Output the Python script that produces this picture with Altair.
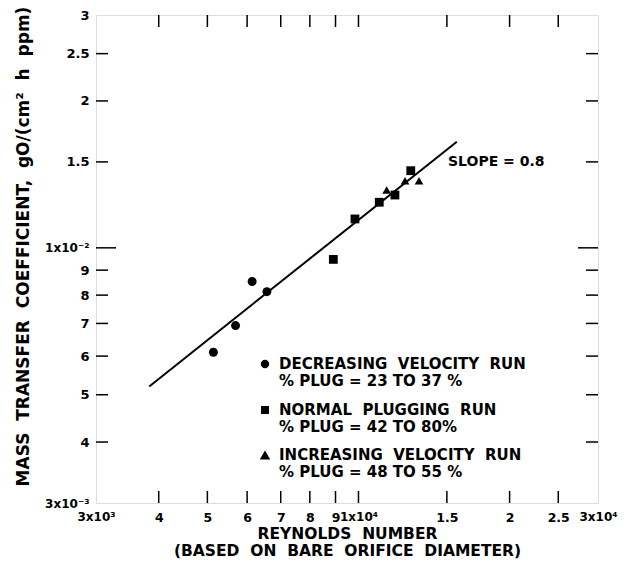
import altair as alt
import pandas as pd

# ---- data ----
circle_x = [5140, 5690, 6140, 6570]
circle_y = [0.00611, 0.00693, 0.00853, 0.00813]
square_x = [8910, 9840, 11000, 11820, 12710]
square_y = [0.00947, 0.01146, 0.0124, 0.01283, 0.01439]
tri_x = [11380, 12380, 13200]
tri_y = [0.01314, 0.01373, 0.01373]
fit_x = [3830, 15700]
fit_y = [0.0052, 0.0165]

x_ticks = [3000, 4000, 5000, 6000, 7000, 8000, 9000, 10000, 15000, 20000, 25000, 30000]
x_labels = ["3x10³", "4", "5", "6", "7", "8", "9", "1x10⁴", "1.5", "2", "2.5", "3x10⁴"]
y_ticks = [0.003, 0.004, 0.005, 0.006, 0.007, 0.008, 0.009, 0.01, 0.015, 0.02, 0.025, 0.03]
y_labels = ["3x10⁻³", "4", "5", "6", "7", "8", "9", "1x10⁻²", "1.5", "2", "2.5", "3"]

legend_lines = [
    ["DECREASING VELOCITY RUN", "% PLUG = 23 TO 37 %"],
    ["NORMAL PLUGGING RUN", "% PLUG = 42 TO 80%"],
    ["INCREASING VELOCITY RUN", "% PLUG = 48 TO 55 %"],
]
slope_text = "SLOPE = 0.8"
x_title = ["REYNOLDS NUMBER", "(BASED ON BARE ORIFICE DIAMETER)"]
y_title = "MASS TRANSFER COEFFICIENT, gO/(cm² h ppm)"

W, H = 502, 488
FONT = "DejaVu Sans"
NB = "\u00a0"


def wide(s, n=2):
    return s.replace(" ", NB * n)


def label_expr(vals, labs):
    expr = "''"
    for v, l in reversed(list(zip(vals, labs))):
        expr = f"abs(datum.value - {v}) < {v * 1e-6} ? '{l}' : ({expr})"
    return expr


def size_cond(powers, small, normal):
    test = " || ".join(f"abs(datum.value - {v}) < {v * 1e-6}" for v in powers)
    return {"condition": {"test": test, "value": small}, "value": normal}


xs = alt.Scale(type="log", domain=[3000, 30000], nice=False)
ys = alt.Scale(type="log", domain=[0.003, 0.03], nice=False)

pts = pd.DataFrame({
    "x": circle_x + square_x + tri_x,
    "y": circle_y + square_y + tri_y,
    "kind": ["circle"] * len(circle_x) + ["square"] * len(square_x) + ["triangle-up"] * len(tri_x),
})

x_axis = alt.Axis(values=x_ticks, labelExpr=label_expr(x_ticks, x_labels), ticks=False,
                  domain=False, grid=False, labelFont=FONT, labelFontWeight="bold",
                  labelFontSize=size_cond([3000, 10000, 30000], 12, 12.5),
                  labelColor="black", labelPadding=8, labelFlush=False,
                  labelOverlap=False,
                  title=[wide(t, 2) for t in x_title],
                  titleFont=FONT, titleFontWeight="bold", titleFontSize=15.5, titleColor="black",
                  titleY=23, titleBaseline="top", titleLineHeight=17)
y_axis = alt.Axis(values=y_ticks, labelExpr=label_expr(y_ticks, y_labels), ticks=False,
                  domain=False, grid=False, labelFont=FONT, labelFontWeight="bold",
                  labelFontSize=size_cond([0.003, 0.01], 12, 13),
                  labelColor="black", labelPadding=7, labelFlush=False,
                  labelOverlap=False,
                  title=wide(y_title, 2),
                  titleFont=FONT, titleFontWeight="bold", titleFontSize=17, titleColor="black",
                  titleX=-73, titleY=231, titleBaseline="middle", titleAngle=-90)

points = alt.Chart(pts).mark_point(filled=True, color="black", opacity=1).encode(
    x=alt.X("x:Q", scale=xs, axis=x_axis),
    y=alt.Y("y:Q", scale=ys, axis=y_axis),
    shape=alt.Shape("kind:N", scale=alt.Scale(domain=["circle", "square", "triangle-up"],
                                               range=["circle", "square", "triangle-up"]),
                    legend=None),
    size=alt.Size("kind:N", scale=alt.Scale(domain=["circle", "square", "triangle-up"],
                                             range=[80, 75, 130]), legend=None),
)

fit = alt.Chart(pd.DataFrame({"x": fit_x, "y": fit_y})).mark_line(color="black", strokeWidth=2).encode(
    x=alt.X("x:Q", scale=xs), y=alt.Y("y:Q", scale=ys))

xt = pd.DataFrame({"v": x_ticks[1:-1]})
yt = pd.DataFrame({"v": [v for v in y_ticks[1:-1] if v != 0.01]})
y_long = pd.DataFrame({"v": [0.01]})
TL = 12
tick_style = dict(color="black", strokeWidth=1.5)
bot = alt.Chart(xt).mark_rule(**tick_style).encode(x=alt.X("v:Q", scale=xs), y=alt.value(H - TL), y2=alt.value(H))
top = alt.Chart(xt).mark_rule(**tick_style).encode(x=alt.X("v:Q", scale=xs), y=alt.value(0), y2=alt.value(TL))
lft = alt.Chart(yt).mark_rule(**tick_style).encode(y=alt.Y("v:Q", scale=ys), x=alt.value(0), x2=alt.value(TL))
rgt = alt.Chart(yt).mark_rule(**tick_style).encode(y=alt.Y("v:Q", scale=ys), x=alt.value(W - TL), x2=alt.value(W))
lft2 = alt.Chart(y_long).mark_rule(**tick_style).encode(y=alt.Y("v:Q", scale=ys), x=alt.value(0), x2=alt.value(20))
rgt2 = alt.Chart(y_long).mark_rule(**tick_style).encode(y=alt.Y("v:Q", scale=ys), x=alt.value(W - 20), x2=alt.value(W))

txt_style = dict(font=FONT, fontWeight="bold", fontSize=15, color="black", align="left", baseline="middle")
annots = []
sym_shapes = ["circle", "square", "triangle-up"]
sym_sizes = [70, 65, 110]
sym_y = [349, 395, 440]
for shp, sz, yy, lines in zip(sym_shapes, sym_sizes, sym_y, legend_lines):
    annots.append(alt.Chart(pd.DataFrame({"s": [shp]})).mark_point(filled=True, color="black", opacity=1, size=sz, shape=shp)
                  .encode(x=alt.value(169), y=alt.value(yy)))
    annots.append(alt.Chart(pd.DataFrame({"t": [wide(lines[0], 2)]})).mark_text(**txt_style)
                  .encode(text="t:N", x=alt.value(183), y=alt.value(yy)))
    annots.append(alt.Chart(pd.DataFrame({"t": [wide(lines[1], 1)]})).mark_text(**txt_style)
                  .encode(text="t:N", x=alt.value(183), y=alt.value(yy + 17)))
annots.append(alt.Chart(pd.DataFrame({"t": [slope_text]})).mark_text(**dict(txt_style, fontSize=14))
              .encode(text="t:N", x=alt.value(352), y=alt.value(147)))

chart = alt.layer(points, fit, bot, top, lft, rgt, lft2, rgt2, *annots).properties(
    width=W, height=H,
    autosize=alt.AutoSizeParams(type="none"),
    padding={"left": 88, "top": 7, "right": 27, "bottom": 58},
).configure_view(stroke="black", strokeWidth=2).configure(background="white")

chart.save("out.html", embed_options={"renderer": "svg", "actions": False})
